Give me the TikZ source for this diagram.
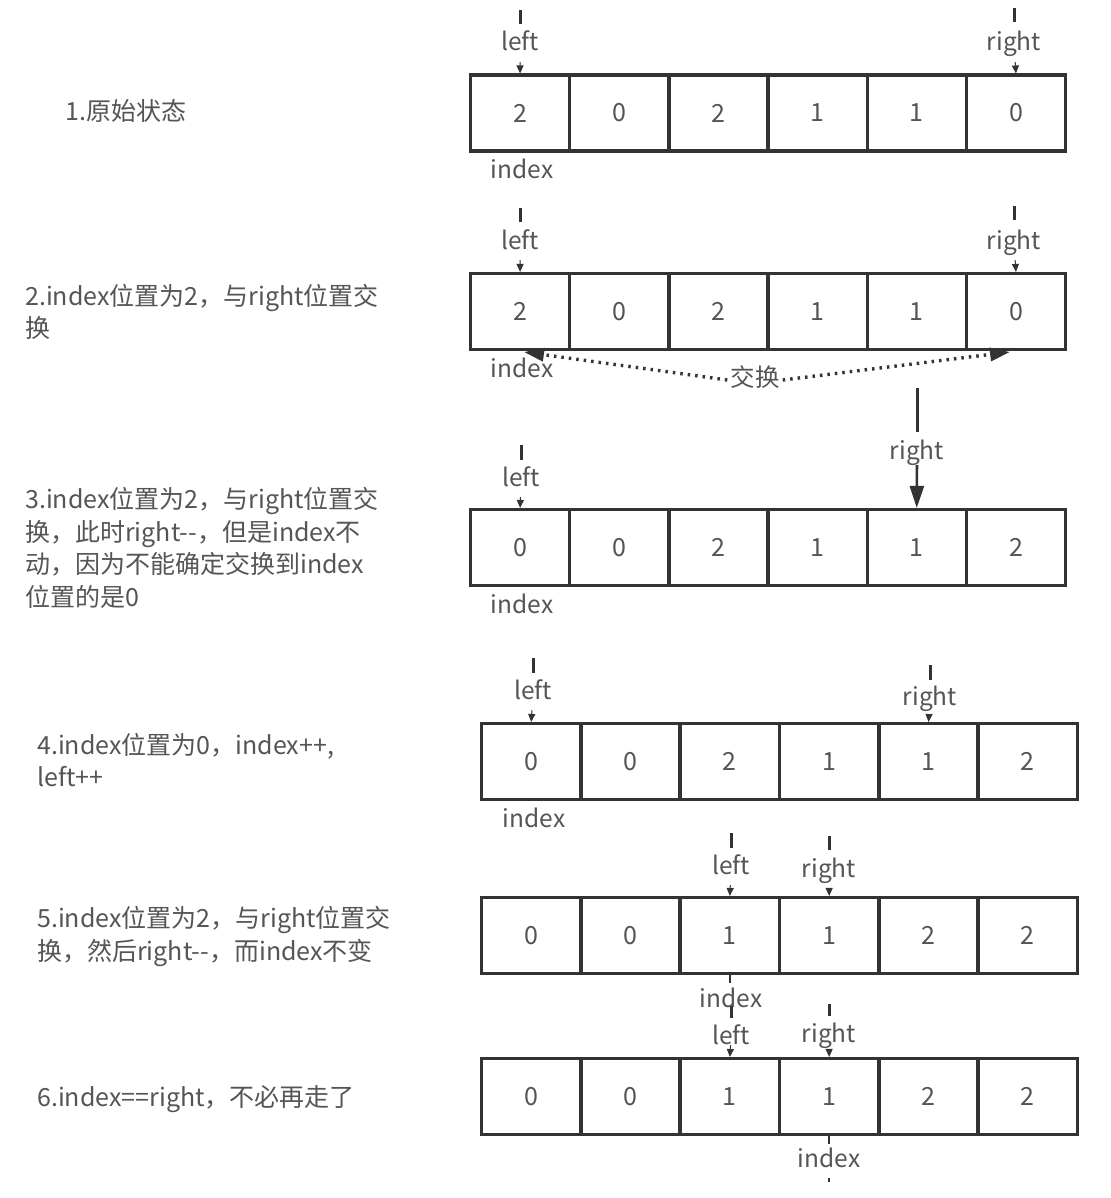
\documentclass[tikz,border=0pt]{standalone}
\usepackage{fontspec}
\setmainfont{Noto Sans CJK SC}
\usetikzlibrary{arrows.meta}
\definecolor{txt}{HTML}{555555}
\definecolor{ln}{HTML}{333333}
\begin{document}
\begin{tikzpicture}[x=1pt,y=-1pt,
  cell/.style={draw=ln, line width=3.1pt, minimum width=99pt, minimum height=76pt, inner sep=0pt, text=txt, font=\fontsize{25}{29}\selectfont},
  lab/.style={text=txt, font=\fontsize{24.5}{28}\selectfont, inner sep=1pt, text height=17pt, text depth=5pt},
  desc/.style={text=txt, font=\fontsize{25}{32.5}\selectfont, align=left, anchor=base west, inner sep=0pt},
  tick/.style={draw=ln, line width=3pt},
  ptr/.style={draw=ln, line width=1pt, shorten <=5pt, -{Triangle[length=8pt,width=7pt]}},
  bigptr/.style={draw=ln, line width=2.6pt, -{Triangle[length=22pt,width=14pt]}},
  swapline/.style={draw=ln, line width=3.4pt, dash pattern=on 2.5pt off 5pt, -{Triangle[length=20pt,width=13pt]}},
  small/.style={draw=ln, line width=2pt}
]
\fill[white] (0,0) rectangle (1110,1198);
\useasboundingbox (0,0) rectangle (1110,1198);

% ---------- descriptions (anchor = baseline of the last line) ----------
\node[desc] (d1) at (65,121) {1.原始状态};
\node[desc] (d2) at (25,337.5) {2.index位置为2，与right位置交\\换};
\node[desc] (d3) at (25,606) {3.index位置为2，与right位置交\\换，此时right-{}-，但是index不\\动，因为不能确定交换到index\\位置的是0};
\node[desc] (d4) at (37,786.5) {4.index位置为0，index++,\\left++};
\node[desc] (d5) at (37,960) {5.index位置为2，与right位置交\\换，然后right-{}-，而index不变};
\node[desc] (d6) at (37,1106) {6.index==right，不必再走了};

% ---------- arrays ----------
\foreach \v [count=\i from 0] in {2,0,2,1,1,0}
  \node[cell] (r1c\i) at ({520.1+99.17*\i},113) {\v};
\foreach \v [count=\i from 0] in {2,0,2,1,1,0}
  \node[cell] (r2c\i) at ({520.1+99.17*\i},311.5) {\v};
\foreach \v [count=\i from 0] in {0,0,2,1,1,2}
  \node[cell] (r3c\i) at ({520.1+99.17*\i},547.5) {\v};
\foreach \v [count=\i from 0] in {0,0,2,1,1,2}
  \node[cell] (r4c\i) at ({531.2+99.33*\i},761.5) {\v};
\foreach \v [count=\i from 0] in {0,0,1,1,2,2}
  \node[cell] (r5c\i) at ({531.2+99.33*\i},935.5) {\v};
\foreach \v [count=\i from 0] in {0,0,1,1,2,2}
  \node[cell] (r6c\i) at ({531.2+99.33*\i},1096.5) {\v};

% ---------- row 1 ----------
\node[lab] (l1) at (520,45) {left};
\node[lab] (g1) at (1014,45) {right};
\draw[tick] (520,10) -- (520,24);
\draw[tick] (1014,8) -- (1014,22);
\draw[ptr] (l1) -- (r1c0.north);
\draw[ptr] (g1) -- (r1c5.north);
\node[lab] (i1) at (522,173) {index};

% ---------- row 2 ----------
\node[lab] (l2) at (520,243) {left};
\node[lab] (g2) at (1014,243) {right};
\draw[tick] (520,208) -- (520,222);
\draw[tick] (1014,206) -- (1014,220);
\draw[ptr] (l2) -- (r2c0.north);
\draw[ptr] (g2) -- (r2c5.north);
\node[lab] (i2) at (522,371) {index};
\node[lab, inner sep=3pt] (swp) at (755,380) {交换};
\coordinate (swL) at (524,352);
\coordinate (swR) at (1010,352);
\draw[swapline] (swp.west) -- (swL);
\draw[swapline] (swp.east) -- (swR);

% ---------- row 3 ----------
\node[lab] (l3) at (521,480) {left};
\draw[tick] (521,445) -- (521,460);
\draw[ptr] (l3) -- (r3c0.north);
\node[lab] (g3) at (917,453) {right};
\draw[tick] (917,388) -- (917,432);
\draw[bigptr] (g3) -- (r3c4.north);
\node[lab] (i3) at (522,607) {index};

% ---------- row 4 ----------
\node[lab] (l4) at (533,693) {left};
\node[lab] (g4) at (930,699) {right};
\draw[tick] (533,658) -- (533,673);
\draw[tick] (930,665) -- (930,680);
\draw[ptr] (l4) -- (r4c0.north);
\draw[ptr] (g4) -- (r4c4.north);
\node[lab] (i4) at (534,821) {index};

% ---------- row 5 ----------
\node[lab] (l5) at (731,868) {left};
\node[lab] (g5) at (829,871) {right};
\draw[tick] (731,833) -- (731,848);
\draw[tick] (829,836) -- (829,850);
\draw[ptr] (l5) -- (r5c2.north);
\draw[ptr] (g5) -- (r5c3.north);
\node[lab] (i5) at (731,1001) {index};
\draw[small] (r5c2.south) -- ++(0,8);

% ---------- row 6 ----------
\draw[tick] (731,1006) -- (731,1018);
\draw[tick] (829,1004) -- (829,1016);
\node[lab] (l6) at (731,1038) {left};
\node[lab] (g6) at (829,1036) {right};
\draw[ptr] (l6) -- (r6c2.north);
\draw[ptr] (g6) -- (r6c3.north);
\node[lab] (i6) at (829,1161) {index};
\draw[small] (r6c3.south) -- ++(0,8);
\draw[small] (829,1178) -- (829,1182);
\end{tikzpicture}
\end{document}
